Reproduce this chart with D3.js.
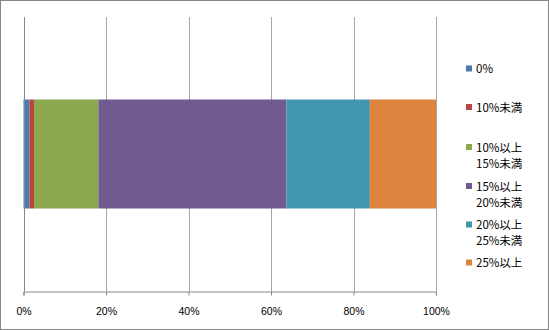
<!DOCTYPE html>
<html><head><meta charset="utf-8">
<script src="https://cdn.jsdelivr.net/npm/d3@7"></script>
<style>body{margin:0;background:#fff}svg{display:block}</style>
</head><body><svg id="c" width="549" height="330"></svg>
<script>
const categories = ["全体"];
const seriesNames = ["0%", "10%未満", "10%以上\n15%未満", "15%以上\n20%未満", "20%以上\n25%未満", "25%以上"];
const seriesValues = [1.45, 1.1, 15.6, 45.6, 20.2, 16.05];
const seriesColors = ["#4a7ab4", "#b94441", "#8ba84f", "#715a8f", "#4196ae", "#dd843f"];
const tickValues = [0, 20, 40, 60, 80, 100];

(function () {
const svg = d3.select("#c");
const W = 549, H = 330;
svg.append("rect").attr("x", 0.5).attr("y", 0.5).attr("width", W - 1).attr("height", H - 1)
  .attr("fill", "#fff").attr("stroke", "#868686");

const pL = 23.5, pR = 436, pT = 17, pB = 291;
const x = d3.scaleLinear().domain([0, 100]).range([pL, pR]);
const y = d3.scaleBand().domain(categories).range([pT, pB]).paddingInner(0).paddingOuter(0.757);

// gridlines
svg.append("g").selectAll("line").data(tickValues).join("line")
  .attr("x1", d => Math.round(x(d)) + 0.5).attr("x2", d => Math.round(x(d)) + 0.5)
  .attr("y1", pT).attr("y2", pB)
  .attr("stroke", "#a6a6a6").attr("stroke-width", 1);

// bars
let cum = 0;
const segs = seriesValues.map((v, i) => { const s = {x0: cum, x1: cum + v, i}; cum += v; return s; });
svg.append("g").selectAll("rect").data(segs).join("rect")
  .attr("x", d => x(d.x0)).attr("width", d => x(d.x1) - x(d.x0))
  .attr("y", y(categories[0])).attr("height", y.bandwidth())
  .attr("fill", d => seriesColors[d.i]);

// axis
const ax = svg.append("g").attr("transform", `translate(0,${pB + 0.5})`)
  .call(d3.axisBottom(x).tickValues(tickValues).tickFormat(d => d + "%").tickSize(4).tickPadding(12));
ax.select(".domain").attr("stroke", "#868686");
ax.selectAll(".tick line").attr("stroke", "#868686");
ax.selectAll("text").attr("font-family", "'Liberation Sans', Arial, sans-serif").attr("font-size", 10.5).attr("fill", "#000");
// left axis line
svg.append("line").attr("x1", Math.round(pL) + 0.5).attr("x2", Math.round(pL) + 0.5)
  .attr("y1", pT).attr("y2", pB).attr("stroke", "#868686");

// legend
const legendY = [69, 107.5, 147.5, 186.5, 225, 263];
const lg = svg.append("g");
seriesNames.forEach((name, i) => {
  const g = lg.append("g").attr("transform", `translate(466,${legendY[i]})`);
  g.append("rect").attr("x", 0).attr("y", -3.5).attr("width", 6).attr("height", 6).attr("fill", seriesColors[i]);
  const t = g.append("text").attr("x", 10).attr("y", 0)
    .attr("font-family", "'Noto Sans CJK JP', sans-serif").attr("font-size", 11.5).attr("fill", "#000");
  name.split("\n").forEach((ln, k) => {
    t.append("tspan").attr("x", 10).attr("dy", k === 0 ? "0.35em" : "16px").text(ln);
  });
});
})();
</script></body></html>
